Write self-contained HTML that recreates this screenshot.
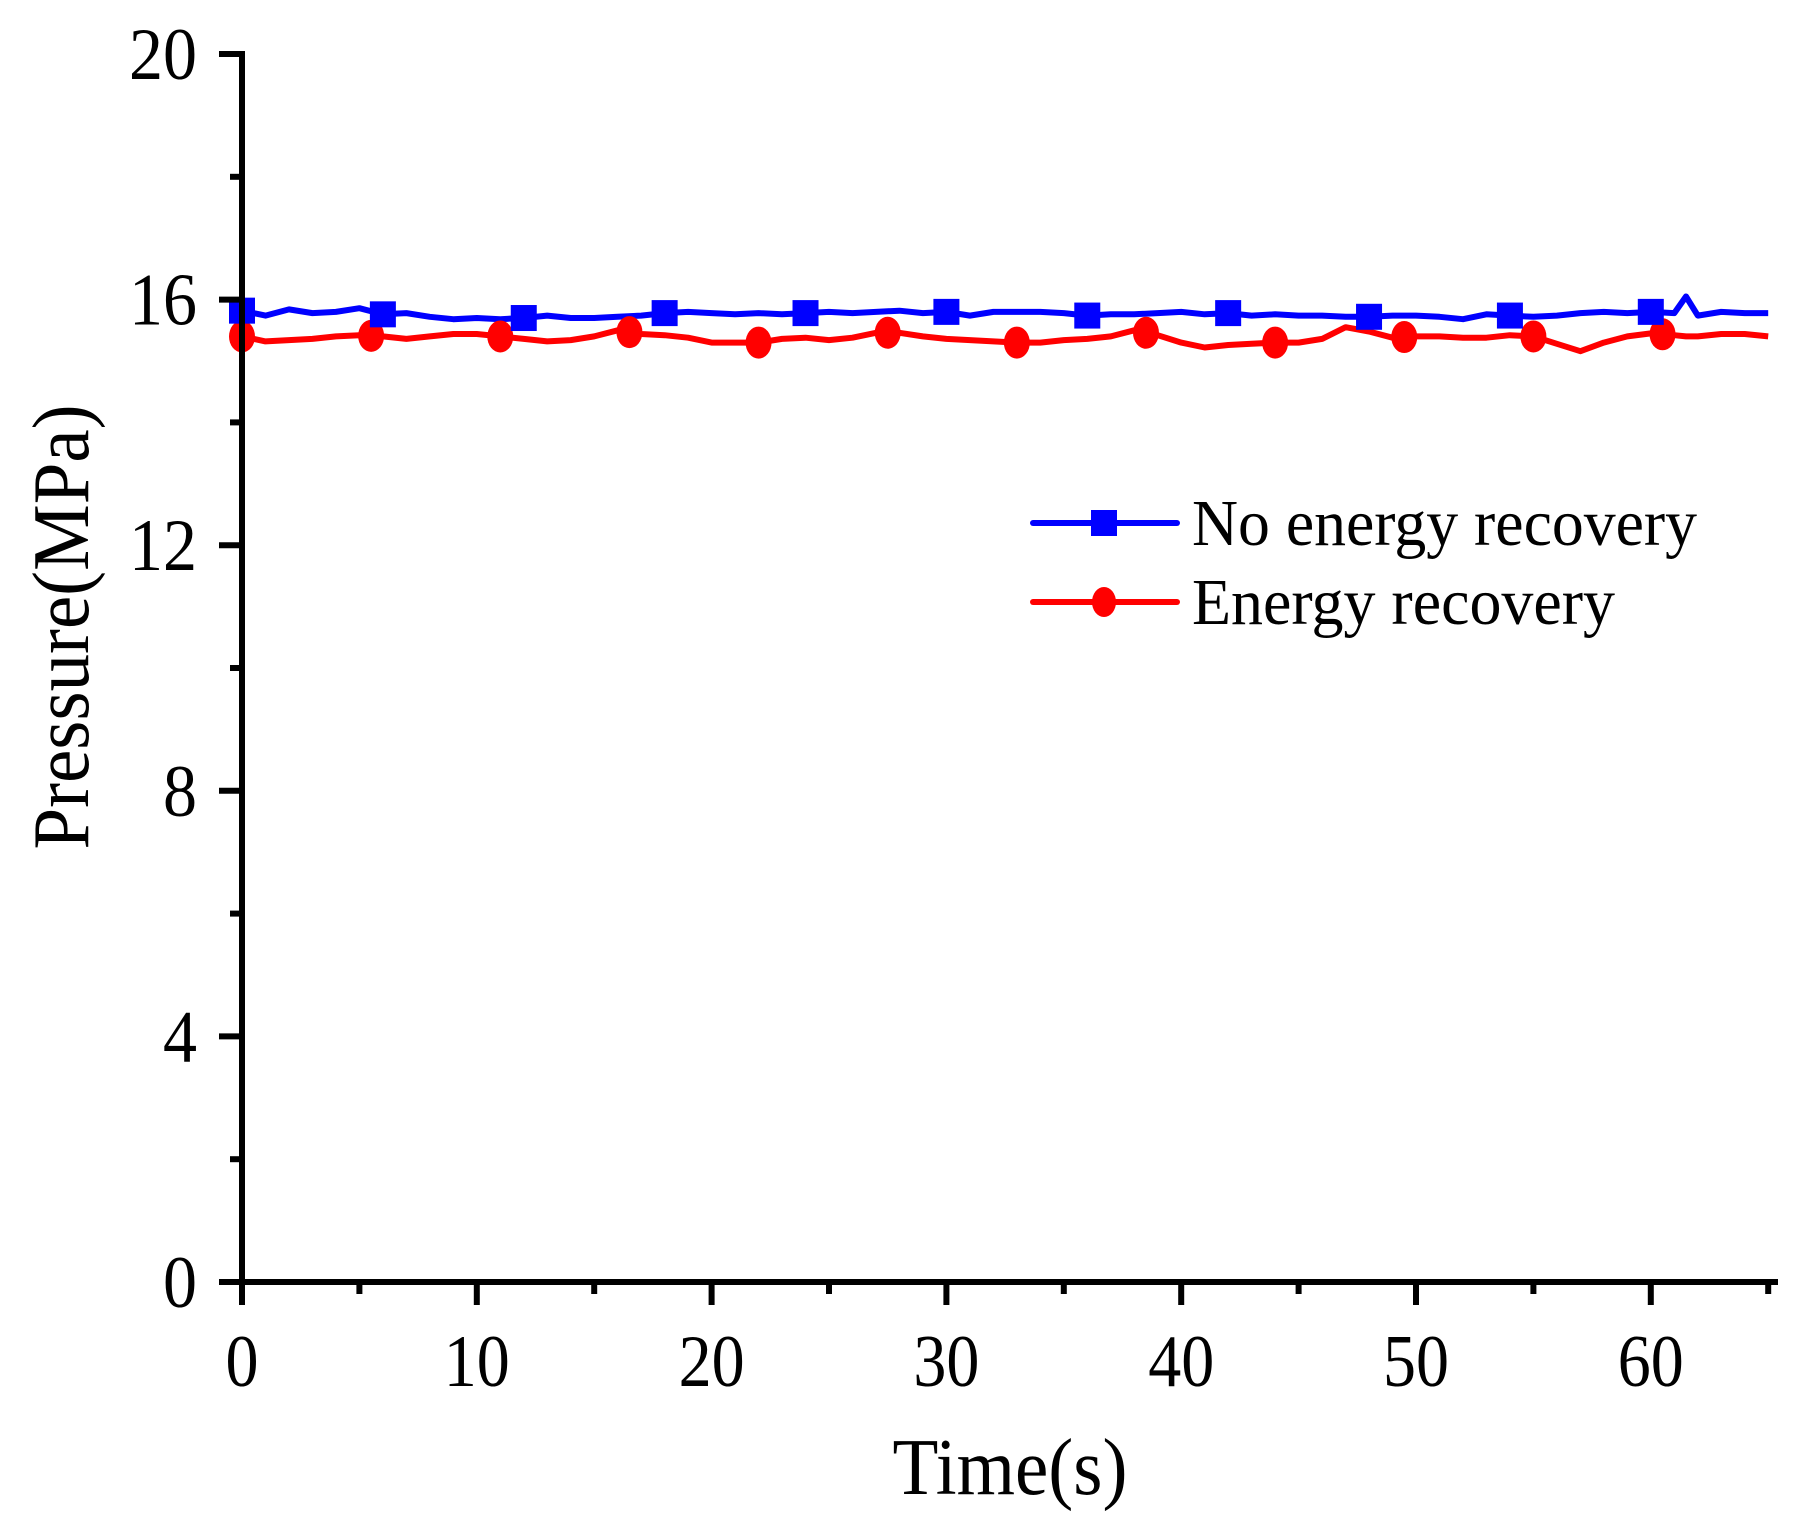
<!DOCTYPE html>
<html><head><meta charset="utf-8"><style>
html,body{margin:0;padding:0;background:#fff;}
svg{display:block;font-family:"Liberation Serif","Times New Roman",serif;}
</style></head><body>
<svg id="chart" width="1805" height="1516" viewBox="0 0 1805 1516">
<g id="plot"></g>
<g id="axes"></g>
<text x="1010" y="1494" font-size="80" text-anchor="middle" textLength="235" lengthAdjust="spacingAndGlyphs">Time(s)</text>
<text transform="translate(88,627) rotate(-90)" font-size="80" text-anchor="middle" textLength="445" lengthAdjust="spacingAndGlyphs">Pressure(MPa)</text>
<g>
  <g>
    <line x1="1033" y1="523" x2="1177" y2="523" stroke="#0000ff" stroke-width="6" stroke-linecap="round"/>
    <rect x="1091" y="510" width="26" height="26" fill="#0000ff"/>
    <text x="1192" y="545" font-size="66" textLength="505" lengthAdjust="spacingAndGlyphs">No energy recovery</text>
  </g>
  <g>
    <line x1="1033" y1="602" x2="1177" y2="602" stroke="#ff0000" stroke-width="6" stroke-linecap="round"/>
    <ellipse cx="1104" cy="602" rx="12" ry="15" fill="#ff0000"/>
    <text x="1192" y="624" font-size="66" textLength="423" lengthAdjust="spacingAndGlyphs">Energy recovery</text>
  </g>
</g>
</svg>
<script>
const times = [0,1,2,3,4,5,6,7,8,9,10,11,12,13,14,15,16,17,18,19,20,21,22,23,24,25,26,27,28,29,30,31,32,33,34,35,36,37,38,39,40,41,42,43,44,45,46,47,48,49,50,51,52,53,54,55,56,57,58,59,60,61,61.5,62,63,64,65];
const noRecovery = [15.82,15.74,15.84,15.78,15.8,15.86,15.76,15.78,15.72,15.68,15.7,15.68,15.7,15.74,15.7,15.7,15.72,15.74,15.78,15.8,15.78,15.76,15.78,15.76,15.78,15.8,15.78,15.8,15.82,15.78,15.8,15.74,15.8,15.8,15.8,15.78,15.74,15.76,15.76,15.78,15.8,15.76,15.78,15.74,15.76,15.74,15.74,15.72,15.72,15.74,15.74,15.72,15.68,15.76,15.74,15.72,15.74,15.78,15.8,15.78,15.8,15.78,16.05,15.74,15.8,15.78,15.78];
const recovery = [15.4,15.32,15.34,15.36,15.4,15.42,15.4,15.36,15.4,15.44,15.44,15.4,15.36,15.32,15.34,15.4,15.5,15.44,15.42,15.38,15.3,15.3,15.3,15.36,15.38,15.34,15.38,15.46,15.46,15.4,15.36,15.34,15.32,15.3,15.3,15.34,15.36,15.4,15.5,15.42,15.3,15.22,15.26,15.28,15.3,15.3,15.36,15.55,15.48,15.38,15.4,15.4,15.38,15.38,15.42,15.4,15.28,15.16,15.3,15.4,15.45,15.42,15.4,15.4,15.44,15.44,15.4];
const squareTimes = [0,6,12,18,24,30,36,42,48,54,60];
const circleTimes = [0,5.5,11,16.5,22,27.5,33,38.5,44,49.5,55,60.5];
const xTicks = [0,10,20,30,40,50,60];
const xMinor = [5,15,25,35,45,55,65];
const yTicks = [0,4,8,12,16,20];
const yMinor = [2,6,10,14,18];

const X0=242, XS=23.48, Y0=1282, YS=(1282-54)/20;
const sx=t=>X0+t*XS, sy=v=>Y0-v*YS;
const NS='http://www.w3.org/2000/svg';
const plot=document.getElementById('plot'), axes=document.getElementById('axes');
function mk(tag,attrs,parent){const e=document.createElementNS(NS,tag);for(const k in attrs)e.setAttribute(k,attrs[k]);parent.appendChild(e);return e;}
function interp(ts,vs,t){for(let i=0;i<ts.length-1;i++){if(t>=ts[i]&&t<=ts[i+1]){const f=(t-ts[i])/(ts[i+1]-ts[i]);return vs[i]+f*(vs[i+1]-vs[i]);}}return vs[vs.length-1];}

function series(vals,color,name){
  const d=times.map((t,i)=>(i?'L':'M')+sx(t).toFixed(1)+','+sy(vals[i]).toFixed(1)).join('');
  const p=mk('path',{d:d,fill:'none',stroke:color,'stroke-width':6,'stroke-linejoin':'round'},plot);
  
  
}
series(recovery,'#ff0000','line-energy-recovery');
series(noRecovery,'#0000ff','line-no-energy-recovery');
circleTimes.forEach(t=>{
  const c=mk('ellipse',{cx:sx(t),cy:sy(interp(times,recovery,t)),rx:13,ry:16,fill:'#ff0000'},plot);
  
  
});
squareTimes.forEach(t=>{
  const r=mk('rect',{x:sx(t)-13,y:sy(interp(times,noRecovery,t))-13,width:26,height:26,fill:'#0000ff'},plot);
  
  
});

mk('line',{x1:X0,y1:Y0,x2:1778,y2:Y0,stroke:'#000','stroke-width':6},axes);
mk('line',{x1:X0,y1:Y0+3,x2:X0,y2:sy(20)-3,stroke:'#000','stroke-width':6},axes);
xTicks.forEach(t=>{
  mk('line',{x1:sx(t),y1:Y0,x2:sx(t),y2:Y0+23,stroke:'#000','stroke-width':6},axes);
  const s=String(t);
  const l=mk('text',{x:sx(t),y:1386,'font-size':74,'text-anchor':'middle',textLength:s.length*33,lengthAdjust:'spacingAndGlyphs'},axes);
  l.textContent=s;
  
  
});
xMinor.forEach(t=>mk('line',{x1:sx(t),y1:Y0,x2:sx(t),y2:Y0+12,stroke:'#000','stroke-width':6},axes));
yTicks.forEach(v=>{
  mk('line',{x1:X0-23,y1:sy(v),x2:X0,y2:sy(v),stroke:'#000','stroke-width':6},axes);
  const s=String(v);
  const l=mk('text',{x:197,y:sy(v)+25,'font-size':74,'text-anchor':'end',textLength:s.length*34,lengthAdjust:'spacingAndGlyphs'},axes);
  l.textContent=s;
  
  
});
yMinor.forEach(v=>mk('line',{x1:X0-12,y1:sy(v),x2:X0,y2:sy(v),stroke:'#000','stroke-width':6},axes));
</script>
</body></html>
